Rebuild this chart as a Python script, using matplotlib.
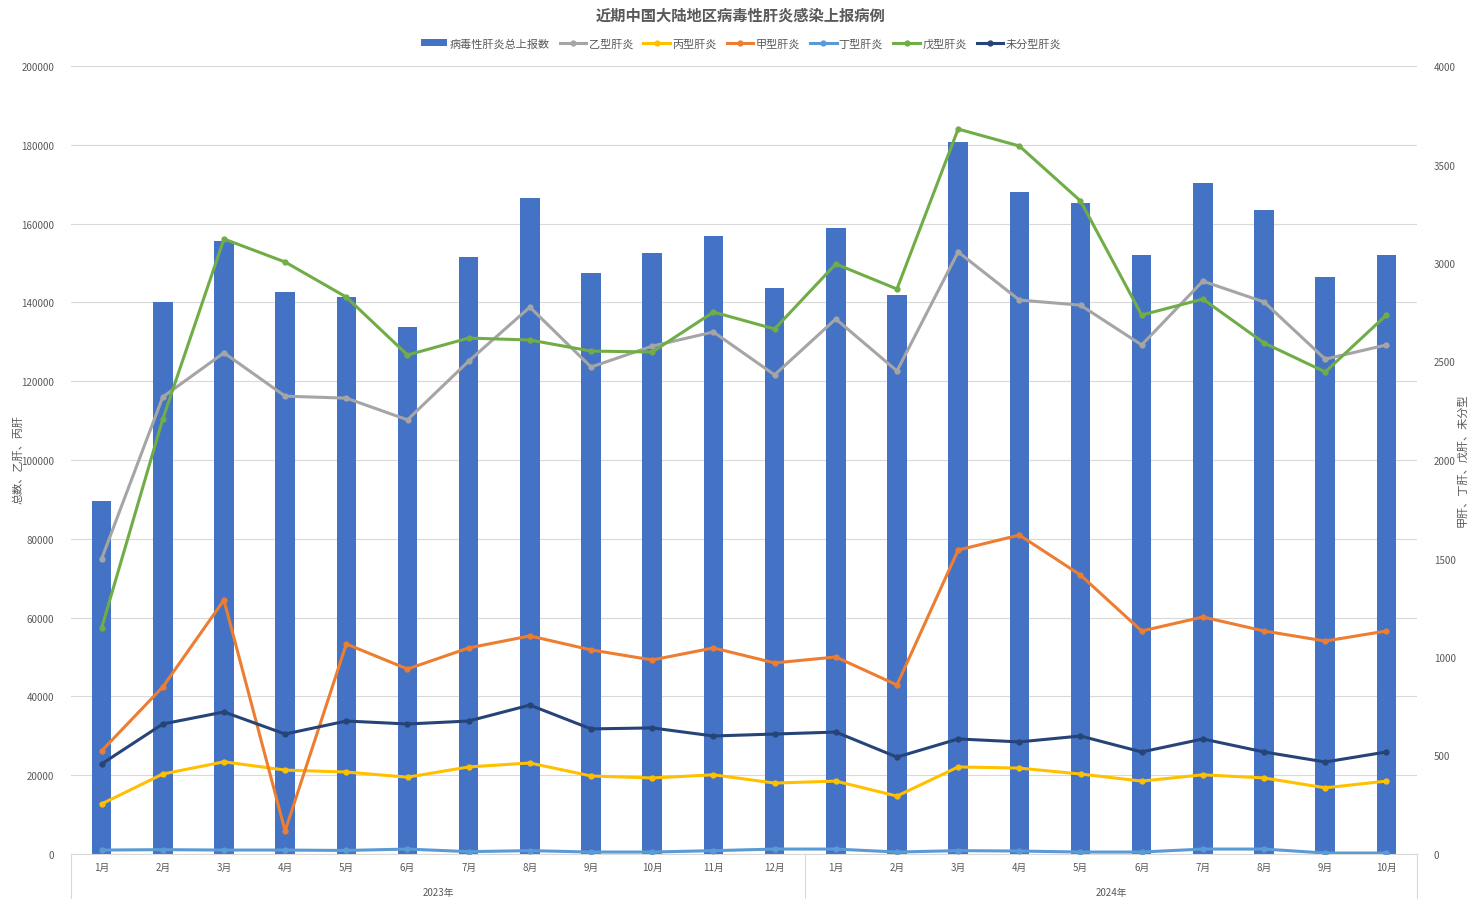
import matplotlib.pyplot as plt
import numpy as np

plt.rcParams['font.family'] = ['Noto Sans CJK SC', 'Noto Sans CJK JP', 'Noto Sans CJK TC', 'DejaVu Sans']

months = ['1月', '2月', '3月', '4月', '5月', '6月', '7月', '8月', '9月', '10月', '11月', '12月',
          '1月', '2月', '3月', '4月', '5月', '6月', '7月', '8月', '9月', '10月']
years = ['2023年', '2024年']
year_counts = [12, 10]

total = [89600, 140100, 155600, 142600, 141400, 133800, 151500, 166500, 147500, 152500, 156900, 143700,
         158900, 141900, 180700, 168000, 165200, 152000, 170300, 163500, 146400, 152000]
hep_b = [74900, 116000, 127200, 116200, 115700, 110200, 125100, 138800, 123600, 128900, 132500, 121600,
         135800, 122600, 152800, 140600, 139300, 129200, 145400, 140100, 125600, 129200]
hep_c = [12700, 20300, 23400, 21300, 20800, 19500, 22100, 23100, 19800, 19300, 20100, 18000,
         18500, 14700, 22100, 21800, 20300, 18500, 20100, 19300, 16800, 18500]
hep_a = [523, 848, 1289, 117, 1066, 939, 1046, 1107, 1036, 985, 1046, 970,
         1000, 858, 1543, 1619, 1416, 1132, 1203, 1132, 1081, 1132]
hep_d = [20, 22, 20, 20, 18, 25, 12, 17, 10, 10, 17, 25, 25, 10, 17, 15, 10, 10, 25, 25, 5, 5]
hep_e = [1147, 2208, 3122, 3005, 2827, 2533, 2619, 2609, 2553, 2548, 2751, 2665,
         2995, 2868, 3680, 3594, 3315, 2736, 2817, 2594, 2447, 2736]
hep_u = [457, 660, 721, 609, 675, 660, 675, 756, 635, 640, 599, 609,
         619, 492, 584, 569, 599, 518, 584, 518, 467, 518]

x = np.arange(len(months))
grey = '#595959'

fig = plt.figure(figsize=(14.82, 9.04), dpi=100)
ax = fig.add_axes([71 / 1482, 1 - 855 / 904, (1417 - 71) / 1482, (855 - 67) / 904])
ax2 = ax.twinx()

h = []
h.append(ax.bar(x, total, width=0.32, color='#4472C4', label='病毒性肝炎总上报数', zorder=2))
lk = dict(marker='o', markersize=3.5, linewidth=2.2, zorder=3)
h.append(ax.plot(x, hep_b, color='#A5A5A5', label='乙型肝炎', **lk)[0])
h.append(ax.plot(x, hep_c, color='#FFC000', label='丙型肝炎', **lk)[0])
h.append(ax2.plot(x, hep_a, color='#ED7D31', label='甲型肝炎', **lk)[0])
h.append(ax2.plot(x, hep_d, color='#5B9BD5', label='丁型肝炎', **lk)[0])
h.append(ax2.plot(x, hep_e, color='#70AD47', label='戊型肝炎', **lk)[0])
h.append(ax2.plot(x, hep_u, color='#264478', label='未分型肝炎', **lk)[0])

ax.set_xlim(-0.5, len(x) - 0.5)
ax.set_ylim(0, 200000)
ax.set_yticks(range(0, 200001, 20000))
ax2.set_ylim(0, 4000)
ax2.set_yticks(range(0, 4001, 500))
ax.grid(True, axis='y', color='#D9D9D9', linewidth=0.8, zorder=0)
ax.set_axisbelow(True)
for a in (ax, ax2):
    for s in a.spines.values():
        s.set_visible(False)
    a.tick_params(length=0, labelsize=7, colors=grey, pad=12)
ax.spines['bottom'].set_visible(True)
ax.spines['bottom'].set_color('#D9D9D9')
ax.set_xticks(x)
ax.set_xticklabels(months)
ax.tick_params(axis='x', pad=6)

# second level axis: years
trans = ax.get_xaxis_transform()
start = 0
bounds = [-0.5]
for yname, n in zip(years, year_counts):
    mid = start + (n - 1) / 2
    ax.text(mid, -0.048, yname, transform=trans, ha='center', va='center', fontsize=7, color=grey)
    start += n
    bounds.append(start - 0.5)
for b in bounds:
    ax.plot([b, b], [0, -0.056], transform=trans, color='#D9D9D9', linewidth=0.8, clip_on=False)

fig.text(18 / 1482, 1 - 460 / 904, '总数、乙肝、丙肝', rotation=90, ha='center', va='center',
         fontsize=8, color=grey)
fig.text(1462 / 1482, 1 - 460 / 904, '甲肝、丁肝、戊肝、未分型', rotation=90, ha='center', va='center',
         fontsize=8, color=grey)

fig.suptitle('近期中国大陆地区病毒性肝炎感染上报病例', y=0.992, fontsize=11,
             fontweight='bold', color=grey)
fig.legend(handles=h, loc='upper center', bbox_to_anchor=(0.5, 0.968), ncol=7, frameon=False,
           fontsize=8, handlelength=2.4, columnspacing=0.9, handletextpad=0.2, labelcolor=grey)

fig.savefig('out.png', dpi=100)
